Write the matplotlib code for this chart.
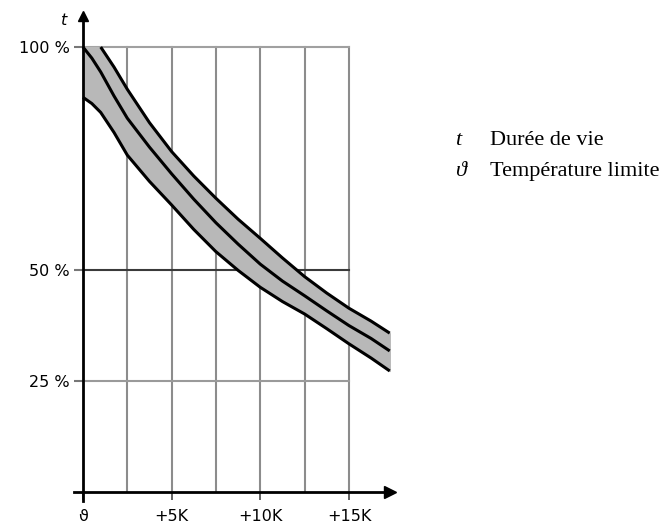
import numpy as np
import matplotlib.pyplot as plt

# courbes (x en K, y en %)
x_k = [0, 0.5, 1, 1.75, 2.5, 3.75, 5, 6.25, 7.5, 8.75, 10, 11.25, 12.5, 13.75, 15, 16.25, 17.3]
upper = [100, 100, 100, 95.5, 90.5, 83, 76.5, 71, 66, 61.3, 57, 52.6, 48.4, 44.7, 41.3, 38.4, 35.7]
middle = [100, 97.5, 94.4, 89, 84, 77.5, 71.5, 65.8, 60.5, 55.7, 51.2, 47.4, 44.1, 40.7, 37.4, 34.5, 31.7]
lower = [88.7, 87.3, 85.3, 80.8, 75.7, 69.8, 64.5, 59, 54, 49.8, 46, 42.8, 40, 36.7, 33.3, 30.1, 27.2]

grid_x = [2.5, 5, 7.5, 10, 12.5, 15]
grid_y = [25, 50, 100]
xtick_pos = [0, 5, 10, 15]
xtick_lab = ["\u03d1", "+5K", "+10K", "+15K"]
ytick_lab = ["25 %", "50 %", "100 %"]
legend_sym = ["t", "\u03d1"]
legend_txt = ["Durée de vie", "Température limite"]

fig = plt.figure(figsize=(6.6, 5.24), dpi=100)
ax = fig.add_axes([0.1123, 0.0441, 0.4782, 0.9256])
ax.set_xlim(-0.5, 17.3)
ax.set_ylim(-2, 107)

# grille
for gx in grid_x:
    ax.plot([gx, gx], [0, 100], color="#8c8c8c", lw=1.5, zorder=1)
gcols = {25: "#9a9a9a", 50: "#3a3a3a", 100: "#a0a0a0"}
for gy in grid_y:
    ax.plot([0, 15], [gy, gy], color=gcols[gy], lw=1.5, zorder=1)

# bande + courbes
ax.fill_between(x_k, lower, upper, color="#b8b8b8", zorder=2, clip_on=False)
ax.plot(x_k[2:], upper[2:], color="black", lw=2.2, zorder=3, clip_on=False, solid_capstyle="butt")
ax.plot(x_k, middle, color="black", lw=2.2, zorder=3, clip_on=False, solid_capstyle="butt")
ax.plot(x_k, lower, color="black", lw=2.2, zorder=3, clip_on=False, solid_capstyle="butt")

# axes avec flèches
for s in ["top", "right"]:
    ax.spines[s].set_visible(False)
ax.spines["left"].set_position(("data", 0))
ax.spines["bottom"].set_position(("data", 0))
ax.spines["left"].set_linewidth(2)
ax.spines["bottom"].set_linewidth(2)
ax.spines["left"].set_zorder(4)
ax.spines["bottom"].set_zorder(4)
ax.plot(1, 0, ">", color="black", ms=8, transform=ax.get_yaxis_transform(), clip_on=False)
ax.plot(0, 1, "^", color="black", ms=7, transform=ax.get_xaxis_transform(), clip_on=False)

ax.set_xticks(xtick_pos, xtick_lab)
ax.set_yticks(grid_y, ytick_lab)
ax.tick_params(axis="x", direction="out", length=6, width=1.3, color="#555555", pad=6, labelsize=11.5)
ax.tick_params(axis="y", direction="out", length=6.5, width=1.5, color="#777777", pad=3, labelsize=11.5)
ax.set_facecolor("none")

ax.text(-0.9, 106, "t", fontsize=11.5, style="italic", ha="right", va="center")

for i in range(2):
    y = 1 - (145 + 31 * i) / 524
    fig.text(455 / 660, y, legend_sym[i], family="Liberation Serif", style="italic",
             fontsize=16, ha="left", va="baseline")
    fig.text(490 / 660, y, legend_txt[i], family="Liberation Serif",
             fontsize=16, ha="left", va="baseline")

plt.savefig("out.png", dpi=100)
